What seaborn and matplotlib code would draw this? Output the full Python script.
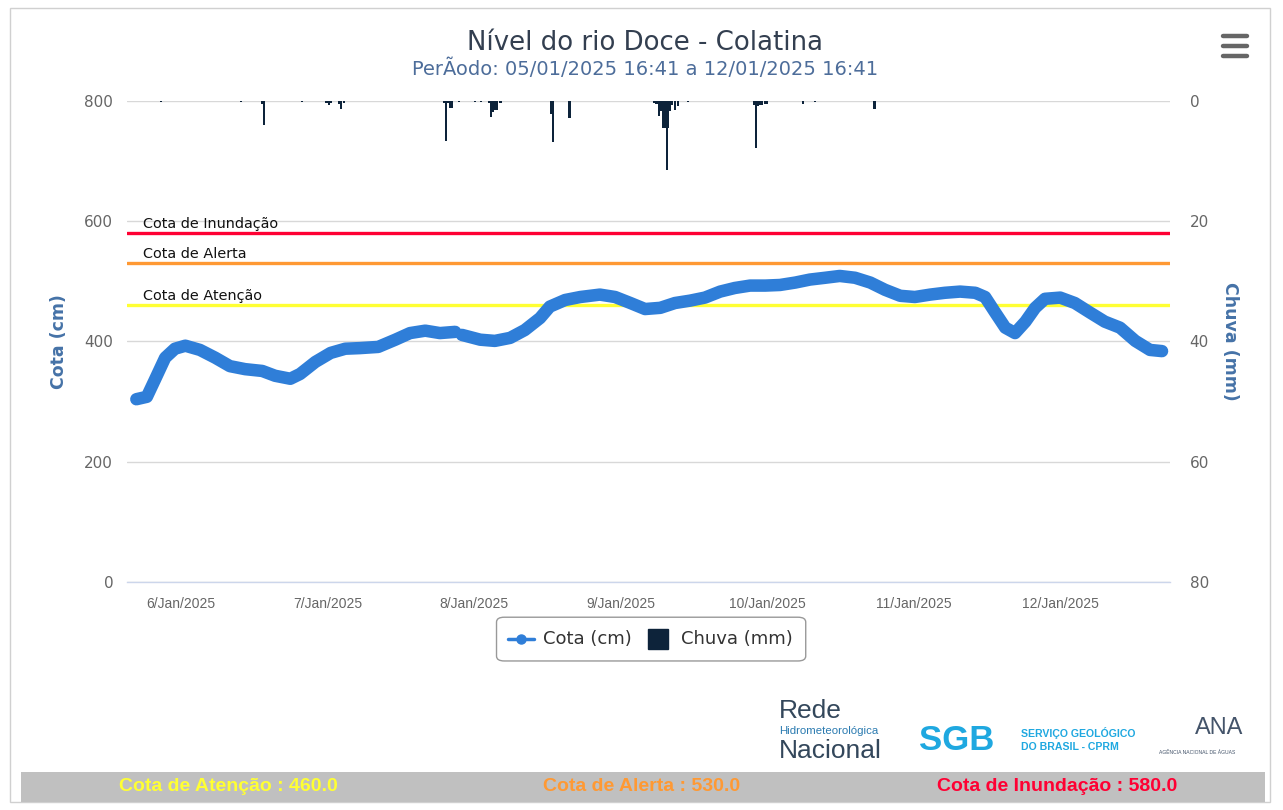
import numpy as np
import pandas as pd
import matplotlib
matplotlib.use("Agg")
import matplotlib.pyplot as plt
import seaborn as sns
from matplotlib.patches import FancyBboxPatch, Rectangle
from matplotlib.lines import Line2D

# hours since 05/01/2025 00:00
level_hours = [16.68, 18.4, 19.7, 21.4, 23.0, 24.7, 27.1, 29.6, 32.0, 34.5, 37.3, 39.4,
               41.9, 43.5, 46.0, 48.5, 50.9, 53.3, 56.3, 59.1, 61.5, 64.0, 66.4, 68.9,
               69.5,
               70.0, 73.0, 75.4, 77.9, 80.3, 82.8, 84.4, 86.9, 89.4, 92.6, 95.1, 97.6,
               100.0, 102.5, 104.9, 107.4, 109.8, 112.3, 114.7, 117.2, 119.7, 122.1, 124.6,
               127.0, 129.5, 131.9, 134.4, 136.9, 139.3, 141.8, 144.2, 146.7, 149.1, 151.6,
               154.1, 155.7, 157.3, 159.0, 160.6, 162.3, 163.9, 165.5, 168.0, 170.4, 172.9,
               175.3, 177.8, 180.3, 182.7, 184.68]
level_cm = [304, 308, 336, 373, 388, 393, 386, 373, 359, 354, 351, 343,
            338, 346, 366, 381, 388, 389, 391, 403, 414, 418, 414, 416,
            None,
            411, 403, 401, 406, 419, 439, 458, 469, 474, 478, 474, 464,
            454, 456, 464, 468, 473, 483, 489, 493, 493, 494, 498,
            503, 506, 509, 506, 498, 486, 476, 474, 478, 481, 483,
            481, 474, 449, 423, 414, 433, 456, 471, 473, 464, 448,
            433, 423, 401, 386, 384]

rain_hours = [20.7, 33.8, 37.3, 37.6, 43.8, 47.8, 48.2, 48.6, 49.9, 50.2, 50.7,
              67.1, 67.4, 67.7, 68.1, 68.4, 69.5, 72.2, 73.1,
              74.5, 74.8, 75.1, 75.5, 75.8, 76.3, 84.6, 84.9, 87.6,
              101.5, 101.9, 102.3, 102.7, 103.0, 103.3, 103.6, 103.8, 104.1, 104.4,
              104.9, 105.4, 107.0,
              117.9, 118.2, 118.5, 118.9, 119.2, 119.6, 120.0,
              125.9, 127.8, 137.6]
rain_mm = [0.2, 0.2, 0.5, 4.0, 0.2, 0.3, 0.7, 0.3, 0.5, 1.4, 0.4,
           0.4, 6.7, 0.4, 1.1, 1.1, 0.2, 0.2, 0.2,
           0.3, 2.6, 1.9, 1.5, 1.5, 0.4, 2.2, 6.8, 2.8,
           0.3, 0.5, 2.5, 1.6, 4.5, 4.5, 11.5, 4.5, 1.6, 0.7,
           1.5, 0.9, 0.2,
           0.6, 7.8, 0.8, 0.6, 0.6, 0.5, 0.5,
           0.5, 0.2, 1.4]

day_ticks = [24, 48, 72, 96, 120, 144, 168]
day_labels = ["6/Jan/2025", "7/Jan/2025", "8/Jan/2025", "9/Jan/2025",
              "10/Jan/2025", "11/Jan/2025", "12/Jan/2025"]

threshold_names = ["Cota de Inundação", "Cota de Alerta", "Cota de Atenção"]
threshold_values = [580, 530, 460]
threshold_colors = ["#ff0033", "#ff9933", "#ffff33"]

LINE = "#2f7ed8"
RAIN = "#0d233a"
GRID = "#d8d8d8"
AXIS = "#ccd6eb"
TXT = "#666666"
ARIAL = ["Liberation Sans", "DejaVu Sans"]

sns.set_theme(style="white")
plt.rcParams["font.family"] = ["DejaVu Sans"]

fig = plt.figure(figsize=(12.83, 8.10), dpi=100)
ax = fig.add_axes([0.099, 0.2815, 0.813, 0.5938])
ax2 = ax.twinx()

# level series, split at the gap
df = pd.DataFrame({"h": level_hours, "cota": level_cm})
df["seg"] = df["cota"].isna().cumsum()
df = df.dropna()
for _, part in df.groupby("seg"):
    sns.lineplot(data=part, x="h", y="cota", ax=ax, color=LINE, linewidth=9,
                 solid_capstyle="round", solid_joinstyle="round", zorder=5)

for name, val, col in zip(threshold_names, threshold_values, threshold_colors):
    ax.axhline(val, color=col, linewidth=2.4, zorder=4)
    ax.text(17.8, val + 4, name, fontsize=10.4, color="#111111", va="bottom",
            ha="left", zorder=6)

ax.set_xlim(15.15, 186.0)
ax.set_ylim(0, 800)
ax.set_yticks([0, 200, 400, 600, 800])
ax.yaxis.grid(True, color=GRID, linewidth=1)
ax.set_axisbelow(True)
ax.set_xticks(day_ticks)
ax.set_xticklabels(day_labels, family=ARIAL)
ax.tick_params(axis="x", length=9, color=AXIS, labelsize=10, labelcolor=TXT, pad=1.5)
ax.tick_params(axis="y", length=0, labelsize=11, labelcolor=TXT, pad=10)
for s in ["left", "right", "top"]:
    ax.spines[s].set_visible(False)
ax.spines["bottom"].set_color(AXIS)
ax.spines["bottom"].set_linewidth(1)
ax.set_xlabel("")
ax.set_ylabel("Cota (cm)", color="#4572a7", fontsize=12.5, fontweight="bold", labelpad=11.5)

ax2.bar(rain_hours, rain_mm, width=0.38, color=RAIN, linewidth=0, zorder=3)
ax2.set_ylim(80, 0)
ax2.set_yticks([0, 20, 40, 60, 80])
ax2.tick_params(axis="y", length=0, labelsize=11, labelcolor=TXT, pad=14)
for s in ["left", "right", "top", "bottom"]:
    ax2.spines[s].set_visible(False)
ax2.set_ylabel("Chuva (mm)", color="#4572a7", fontsize=12.5, fontweight="bold",
               rotation=-90, labelpad=22)
ax2.grid(False)

# titles
fig.text(0.503, 0.947, "Nível do rio Doce - Colatina", ha="center", va="center",
         fontsize=18.7, color="#333f50")
fig.text(0.503, 0.915, "PerÃodo: 05/01/2025 16:41 a 12/01/2025 16:41", ha="center",
         va="center", fontsize=14, color="#4d6d9a")

# menu icon
for yy in [0.955, 0.943, 0.931]:
    fig.add_artist(Line2D([0.953, 0.972], [yy, yy], color="#666666", linewidth=3.2,
                          solid_capstyle="round"))

# legend box
fig.add_artist(FancyBboxPatch((0.387, 0.184), 0.241, 0.054,
                              boxstyle="round,pad=0,rounding_size=0.006",
                              transform=fig.transFigure, facecolor="white",
                              edgecolor="#999999", linewidth=1))
fig.add_artist(Line2D([0.396, 0.416], [0.211, 0.211], color=LINE, linewidth=2.5))
fig.add_artist(Line2D([0.406], [0.211], color=LINE, marker="o", markersize=6.5))
fig.text(0.423, 0.211, "Cota (cm)", fontsize=13, color="#333333", va="center")
fig.add_artist(Rectangle((0.505, 0.199), 0.0160, 0.025, transform=fig.transFigure,
                         facecolor=RAIN, edgecolor=RAIN))
fig.text(0.531, 0.211, "Chuva (mm)", fontsize=13, color="#333333", va="center")

# outer frame
fig.add_artist(Rectangle((0.008, 0.010), 0.982, 0.980, transform=fig.transFigure,
                         facecolor="none", edgecolor="#d0d0d0", linewidth=1))

# logos as text
fig.text(0.607, 0.122, "Rede", fontsize=19, color="#33475b", va="center", family=ARIAL)
fig.text(0.607, 0.097, "Hidrometeorológica", fontsize=8.2, color="#2a7ab0", va="center",
         family=ARIAL)
fig.text(0.607, 0.073, "Nacional", fontsize=19, color="#33475b", va="center", family=ARIAL)
fig.text(0.716, 0.086, "SGB", fontsize=25, color="#1fa8e0", va="center", fontweight="bold",
         family=ARIAL)
fig.text(0.796, 0.095, "SERVIÇO GEOLÓGICO", fontsize=7.6, color="#1fa8e0", va="center",
         fontweight="bold", family=ARIAL)
fig.text(0.796, 0.078, "DO BRASIL - CPRM", fontsize=7.6, color="#1fa8e0", va="center",
         fontweight="bold", family=ARIAL)
fig.text(0.931, 0.101, "ANA", fontsize=17, color="#44546a", va="center", family=ARIAL)
fig.text(0.903, 0.071, "AGÊNCIA NACIONAL DE ÁGUAS", fontsize=3.6, color="#44546a",
         va="center", family=ARIAL)

# bottom band with thresholds
fig.add_artist(Rectangle((0.016, 0.010), 0.970, 0.037, transform=fig.transFigure,
                         facecolor="#c0c0c0", edgecolor="none"))
band_labels = ["Cota de Atenção : 460.0", "Cota de Alerta : 530.0", "Cota de Inundação : 580.0"]
band_pos = [0.178, 0.500, 0.824]
for label, xpos, col in zip(band_labels, band_pos, threshold_colors[::-1]):
    fig.text(xpos, 0.029, label, ha="center", va="center", fontsize=14, color=col,
             fontweight="bold", family=ARIAL)

fig.savefig("out.png", dpi=100)
